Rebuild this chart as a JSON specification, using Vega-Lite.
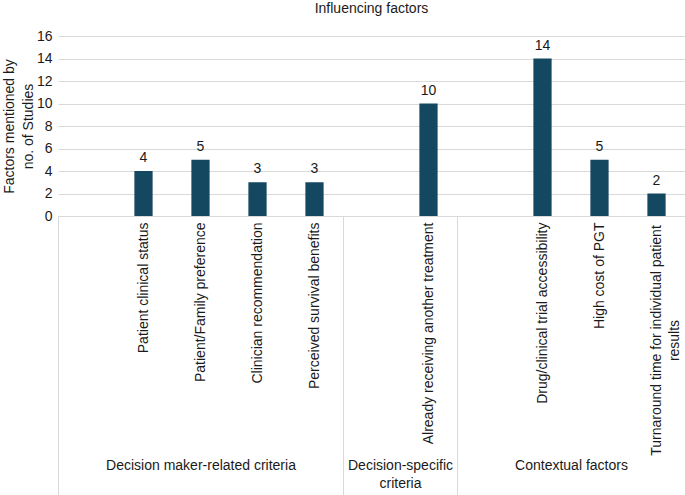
{
  "$schema": "https://vega.github.io/schema/vega-lite/v6.json",
  "width": 627,
  "height": 180,
  "autosize": {"type": "none"},
  "padding": {"left": 58, "top": 36, "right": 0, "bottom": 279},
  "title": {"text": "Influencing factors", "fontSize": 14, "fontWeight": "normal", "color": "#1a1a1a", "offset": 13},
  "config": {"font": "Liberation Sans", "view": {"stroke": null}},
  "data": {
    "values": [
      {"group": "Decision maker-related criteria", "factor": "Patient clinical status", "studies": 4},
      {"group": "Decision maker-related criteria", "factor": "Patient/Family preference", "studies": 5},
      {"group": "Decision maker-related criteria", "factor": "Clinician recommendation", "studies": 3},
      {"group": "Decision maker-related criteria", "factor": "Perceived survival benefits", "studies": 3},
      {"group": "Decision-specific criteria", "factor": "Already receiving another treatment", "studies": 10},
      {"group": "Contextual factors", "factor": "Drug/clinical trial accessibility", "studies": 14},
      {"group": "Contextual factors", "factor": "High cost of PGT", "studies": 5},
      {"group": "Contextual factors", "factor": "Turnaround time for individual patient results", "studies": 2}
    ]
  },
  "layer": [
    {
      "mark": {"type": "bar", "color": "#144760", "width": {"band": 0.32}},
      "encoding": {
        "x": {
          "field": "factor", "type": "nominal", "sort": null,
          "scale": {"domain": ["gap1", "Patient clinical status", "Patient/Family preference", "Clinician recommendation", "Perceived survival benefits", "gap2", "Already receiving another treatment", "gap3", "Drug/clinical trial accessibility", "High cost of PGT", "Turnaround time for individual patient results"], "paddingInner": 0, "paddingOuter": 0},
          "axis": {
            "title": null,
            "domainColor": "#d9d9d9",
            "tickBand": "extent",
            "tickSize": 279,
            "tickColor": {"condition": {"test": "datum.extra || datum.value === 'Perceived survival benefits' || datum.value === 'Already receiving another treatment'", "value": "#d9d9d9"}, "value": "transparent"},
            "labelAngle": -90,
            "labelAlign": {"condition": {"test": "datum.value === 'Turnaround time for individual patient results'", "value": "center"}, "value": "right"},
            "labelBaseline": "middle",
            "labelPadding": {"condition": {"test": "datum.value === 'Turnaround time for individual patient results'", "value": -155}, "value": -273},
            "labelFontSize": 14,
            "labelColor": "#1a1a1a",
            "labelLimit": 400,
            "labelLineHeight": 18,
            "labelExpr": "(datum.value === 'gap1' || datum.value === 'gap2' || datum.value === 'gap3') ? '' : (datum.value === 'Turnaround time for individual patient results' ? ['Turnaround time for individual patient', 'results'] : datum.label)"
          }
        },
        "y": {
          "field": "studies", "type": "quantitative",
          "scale": {"domain": [0, 16], "nice": false},
          "axis": {
            "title": ["Factors mentioned by", "no. of Studies"],
            "titleFontSize": 14, "titleFontWeight": "normal", "titleColor": "#1a1a1a", "titleLineHeight": 19, "titlePadding": 1,
            "values": [0, 2, 4, 6, 8, 10, 12, 14, 16],
            "domain": false, "ticks": false,
            "labelPadding": 6, "labelFontSize": 14, "labelColor": "#1a1a1a",
            "gridColor": "#d9d9d9"
          }
        }
      }
    },
    {
      "mark": {"type": "text", "baseline": "alphabetic", "dy": -9, "fontSize": 14, "color": "#1a1a1a"},
      "encoding": {
        "x": {
          "field": "factor", "type": "nominal", "sort": null,
          "scale": {"domain": ["gap1", "Patient clinical status", "Patient/Family preference", "Clinician recommendation", "Perceived survival benefits", "gap2", "Already receiving another treatment", "gap3", "Drug/clinical trial accessibility", "High cost of PGT", "Turnaround time for individual patient results"], "paddingInner": 0, "paddingOuter": 0},
          "axis": {
            "orient": "bottom",
            "title": null,
            "domain": false, "ticks": false, "grid": false,
            "values": ["Patient/Family preference", "Already receiving another treatment", "High cost of PGT"],
            "labelAngle": 0, "labelAlign": "center", "labelBaseline": "top",
            "labelPadding": 242,
            "labelOffset": {"condition": {"test": "datum.value === 'Patient/Family preference'", "value": 0}, "value": -28.5},
            "labelFontSize": 14, "labelColor": "#1a1a1a", "labelLimit": 400, "labelLineHeight": 18,
            "labelExpr": "datum.value === 'Patient/Family preference' ? 'Decision maker-related criteria' : (datum.value === 'Already receiving another treatment' ? ['Decision-specific', 'criteria'] : 'Contextual factors')"
          }
        },
        "y": {
          "field": "studies", "type": "quantitative",
          "scale": {"domain": [0, 16], "nice": false},
          "axis": {
            "title": ["Factors mentioned by", "no. of Studies"],
            "titleFontSize": 14, "titleFontWeight": "normal", "titleColor": "#1a1a1a", "titleLineHeight": 19, "titlePadding": 1,
            "values": [0, 2, 4, 6, 8, 10, 12, 14, 16],
            "domain": false, "ticks": false,
            "labelPadding": 6, "labelFontSize": 14, "labelColor": "#1a1a1a",
            "gridColor": "#d9d9d9"
          }
        },
        "text": {"field": "studies", "type": "quantitative"}
      }
    }
  ],
  "resolve": {"scale": {"x": "independent"}}
}
